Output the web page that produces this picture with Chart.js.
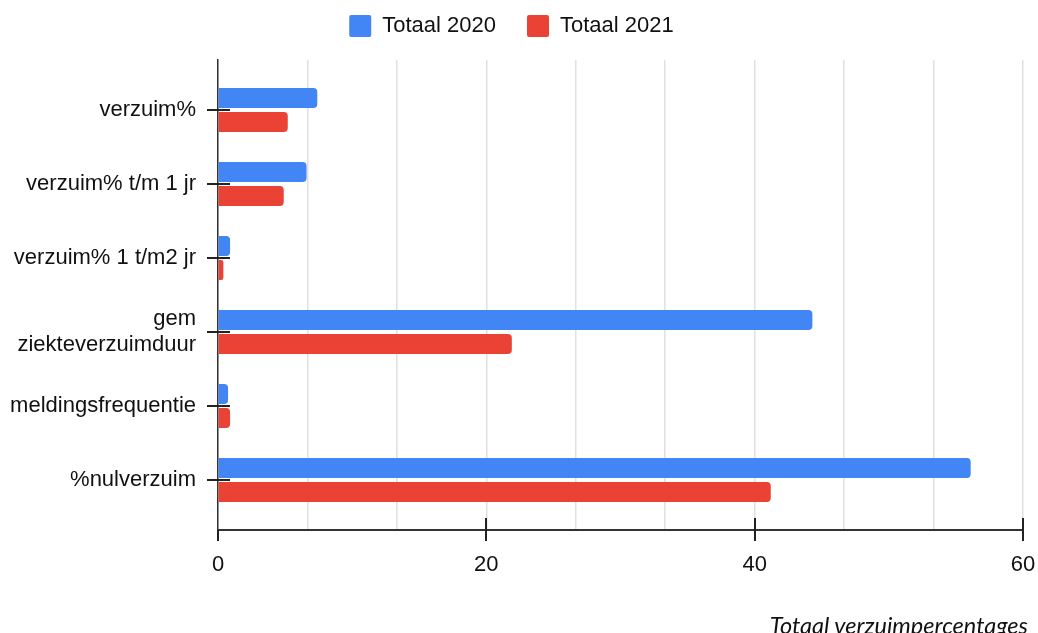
<!DOCTYPE html>
<html>
<head>
<meta charset="utf-8">
<script src="https://cdn.jsdelivr.net/npm/chart.js@4"></script>
<style>
  html, body { margin: 0; padding: 0; background: #fff; }
  #wrap { position: relative; width: 1038px; height: 633px; overflow: hidden; }
  #caption {
    position: absolute; right: 10px; top: 611px;
    font-family: Lato, "Liberation Sans", sans-serif; font-style: italic;
    font-size: 23.5px; color: #111; white-space: nowrap;
  }
</style>
</head>
<body>
<div id="wrap">
  <canvas id="chart"></canvas>
  <div id="caption">Totaal verzuimpercentages</div>
</div>
<script>
// Chart data
const categories = [
  "verzuim%",
  "verzuim% t/m 1 jr",
  "verzuim% 1 t/m2 jr",
  ["gem", "ziekteverzuimduur"],
  "meldingsfrequentie",
  "%nulverzuim",
];
const totaal2020 = [7.4, 6.6, 0.9, 44.3, 0.75, 56.1];
const totaal2021 = [5.2, 4.9, 0.4, 21.9, 0.9, 41.2];
const xTickLabels = [0, 20, 40, 60];
const minorPerMajor = 3;

const FONT = "'Liberation Sans', Arial, sans-serif";
const TEXT = "#111";

// turn value list into points on the index axis
const toPoints = (values) => values.map((v, i) => ({ x: v, y: i }));

// force the legend block height so the plot starts where it should
const legendGap = {
  id: "legendGap",
  beforeInit(chart) {
    const fit = chart.legend.fit;
    chart.legend.fit = function () {
      fit.bind(chart.legend)();
      this.height = 76;
    };
  },
};

// draws the short black tick marks that cross both axes
const tickMarks = {
  id: "tickMarks",
  afterDraw(chart) {
    const { ctx, chartArea, scales } = chart;
    const { x, y } = scales;
    ctx.save();
    ctx.strokeStyle = "#222";
    ctx.lineWidth = 2;
    y.ticks.forEach((t) => {
      const py = Math.round(y.getPixelForValue(t.value));
      ctx.beginPath();
      ctx.moveTo(chartArea.left - 11, py);
      ctx.lineTo(chartArea.left + 12, py);
      ctx.stroke();
    });
    x.ticks.forEach((t) => {
      if (!t.major) return;
      const px = Math.round(x.getPixelForValue(t.value));
      const top = t.value === xTickLabels[0] ? chartArea.bottom : chartArea.bottom - 12;
      ctx.beginPath();
      ctx.moveTo(px, top);
      ctx.lineTo(px, chartArea.bottom + 11);
      ctx.stroke();
    });
    ctx.restore();
  },
};

const ctx = document.getElementById("chart").getContext("2d");
new Chart(ctx, {
  type: "bar",
  data: {
    datasets: [
      {
        label: "Totaal 2020",
        data: toPoints(totaal2020),
        backgroundColor: "#4285F4",
        borderRadius: 4,
      },
      {
        label: "Totaal 2021",
        data: toPoints(totaal2021),
        backgroundColor: "#EA4335",
        borderRadius: 4,
      },
    ],
  },
  options: {
    indexAxis: "y",
    responsive: true,
    maintainAspectRatio: false,
    animation: false,
    categoryPercentage: 0.65,
    barPercentage: 0.83,
    layout: { padding: { top: -16, right: 15, bottom: 0, left: 0 } },
    scales: {
      y: {
        type: "linear",
        offset: false,
        reverse: true,
        min: -0.676,
        max: categories.length - 1 + 0.676,
        afterBuildTicks: (scale) => {
          scale.ticks = categories.map((_, i) => ({ value: i }));
        },
        afterFit: (scale) => {
          scale.width = 218;
        },
        grid: { display: false, drawTicks: false },
        border: { display: true, color: "#333", width: 1.5 },
        ticks: {
          padding: 22,
          color: TEXT,
          font: { family: FONT, size: 22 },
          callback: (value) => categories[value],
        },
      },
      x: {
        type: "linear",
        min: xTickLabels[0],
        max: xTickLabels[xTickLabels.length - 1],
        afterBuildTicks: (scale) => {
          const ticks = [];
          for (let i = 0; i < xTickLabels.length; i++) {
            ticks.push({ value: xTickLabels[i], major: true });
            if (i === xTickLabels.length - 1) break;
            const step = (xTickLabels[i + 1] - xTickLabels[i]) / minorPerMajor;
            for (let k = 1; k < minorPerMajor; k++) {
              ticks.push({ value: xTickLabels[i] + step * k, major: false });
            }
          }
          scale.ticks = ticks;
        },
        afterFit: (scale) => {
          scale.height = 103;
          scale.paddingLeft = 0;
          scale.paddingRight = 0;
        },
        grid: { color: "#e0e0e0", lineWidth: 1.5, drawTicks: false },
        border: { display: true, color: "#333", width: 2 },
        ticks: {
          padding: 22,
          color: TEXT,
          autoSkip: false,
          maxRotation: 0,
          font: { family: FONT, size: 22 },
          callback: (value) => (xTickLabels.includes(value) ? String(value) : ""),
        },
      },
    },
    plugins: {
      legend: {
        position: "top",
        labels: {
          boxWidth: 22,
          boxHeight: 22,
          padding: 31,
          useBorderRadius: true,
          borderRadius: 2,
          color: TEXT,
          font: { family: FONT, size: 22 },
        },
      },
      tooltip: { enabled: false },
    },
  },
  plugins: [legendGap, tickMarks],
});
</script>
</body>
</html>
